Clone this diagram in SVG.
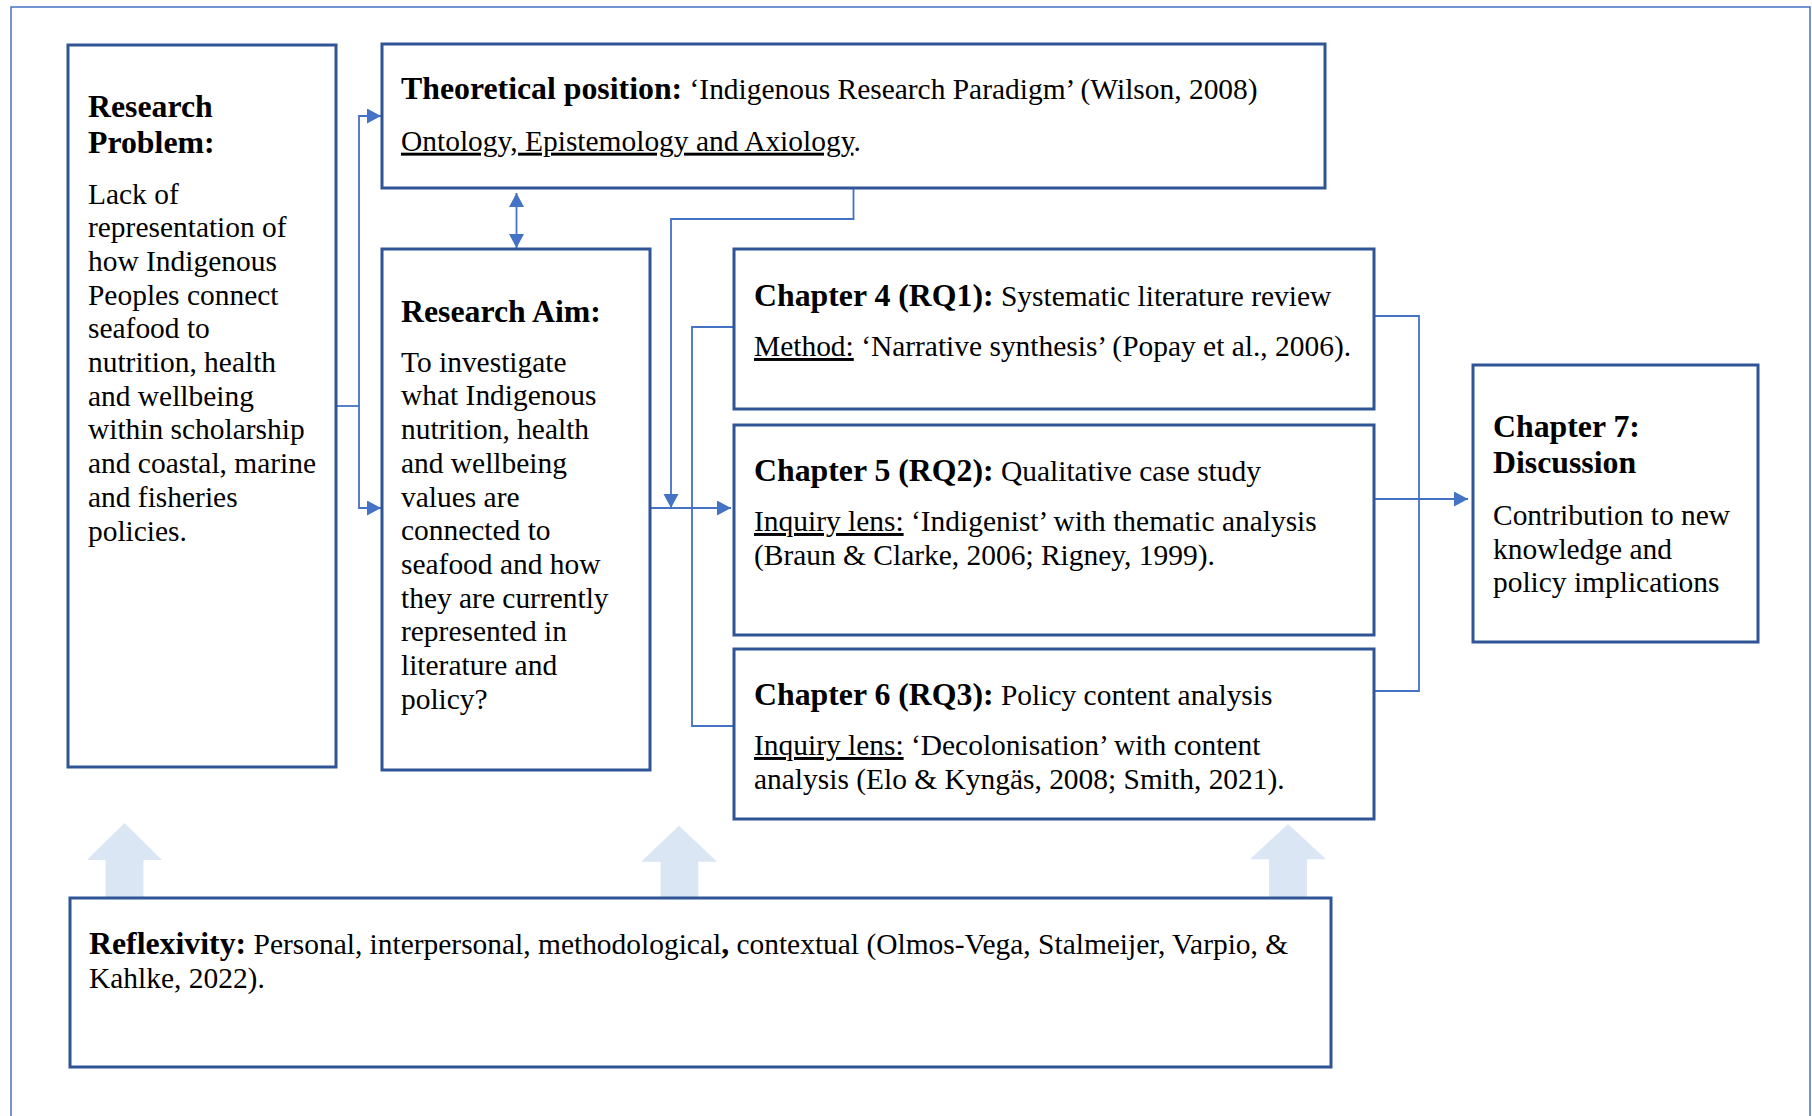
<svg xmlns="http://www.w3.org/2000/svg" width="1812" height="1116" viewBox="0 0 1812 1116">
<style>
.box{fill:#fff;stroke:#2F5597;stroke-width:3}
.frame{fill:none;stroke:#4472C4;stroke-width:1.5}
.con{fill:none;stroke:#4472C4;stroke-width:1.8}
.blk{fill:#DAE6F4;stroke:none}
text{font-family:"Liberation Serif","Times New Roman",serif;font-size:29.45px;fill:#000}
.b{font-weight:bold;font-size:31.8px}
.u{text-decoration:underline}
</style>
<defs>
<marker id="ah" markerUnits="userSpaceOnUse" markerWidth="16" markerHeight="16" refX="14" refY="7.5" orient="auto-start-reverse">
<path d="M0,0 L14,7.5 L0,15 z" fill="#4472C4"/>
</marker>
</defs>
<rect class="frame" x="11" y="7" width="1799" height="1200"/>
<g id="reflexivity-arrows">
<polygon class="blk" points="124.5,823 162,860 143.4,860 143.4,898 105.6,898 105.6,860 87,860"/>
<polygon class="blk" points="679,825.7 717,861.7 698.3,861.7 698.3,898 660.7,898 660.7,861.7 641,861.7"/>
<polygon class="blk" points="1288,824 1326,859.3 1307,859.3 1307,898 1269,898 1269,859.3 1250,859.3"/>
</g>
<g id="connectors">
<path class="con" d="M336,406 H359"/>
<path class="con" d="M359,406 V116 H381" marker-end="url(#ah)"/>
<path class="con" d="M359,406 V508 H381" marker-end="url(#ah)"/>
<path class="con" d="M516.5,193 V248" marker-start="url(#ah)" marker-end="url(#ah)"/>
<path class="con" d="M853.5,188 V219 H671 V508" marker-end="url(#ah)"/>
<path class="con" d="M650,508 H731" marker-end="url(#ah)"/>
<path class="con" d="M734,327 H692 V726 H734"/>
<path class="con" d="M1374,316 H1419 V691 H1374"/>
<path class="con" d="M1374,499 H1468" marker-end="url(#ah)"/>
</g>
<g id="research-problem">
<rect class="box" x="68" y="45" width="268" height="722"/>
<text class="b" x="88" y="116.7">Research</text>
<text class="b" x="88" y="152.7">Problem:</text>
<text x="88" y="204">Lack of</text>
<text x="88" y="237.2">representation of</text>
<text x="88" y="270.9">how Indigenous</text>
<text x="88" y="304.6">Peoples connect</text>
<text x="88" y="338.3">seafood to</text>
<text x="88" y="372">nutrition, health</text>
<text x="88" y="405.7">and wellbeing</text>
<text x="88" y="439.4">within scholarship</text>
<text x="88" y="473.1">and coastal, marine</text>
<text x="88" y="506.8">and fisheries</text>
<text x="88" y="540.5">policies.</text>
</g>
<g id="theoretical-position">
<rect class="box" x="382" y="44" width="943" height="144"/>
<text x="401" y="99.3"><tspan class="b">Theoretical position:</tspan> ‘Indigenous Research Paradigm’ (Wilson, 2008)</text>
<text x="401" y="150.7"><tspan class="u">Ontology, Epistemology and Axiology</tspan>.</text>
</g>
<g id="research-aim">
<rect class="box" x="382" y="249" width="268" height="521"/>
<text class="b" x="401" y="321.7">Research Aim:</text>
<text x="401" y="371.7">To investigate</text>
<text x="401" y="405.4">what Indigenous</text>
<text x="401" y="439.1">nutrition, health</text>
<text x="401" y="472.8">and wellbeing</text>
<text x="401" y="506.5">values are</text>
<text x="401" y="540.2">connected to</text>
<text x="401" y="573.9">seafood and how</text>
<text x="401" y="607.6">they are currently</text>
<text x="401" y="641.3">represented in</text>
<text x="401" y="675">literature and</text>
<text x="401" y="708.7">policy?</text>
</g>
<g id="chapter-4">
<rect class="box" x="734" y="249" width="640" height="160"/>
<text x="754" y="306"><tspan class="b">Chapter 4 (RQ1):</tspan> Systematic literature review</text>
<text x="754" y="356"><tspan class="u">Method:</tspan> ‘Narrative synthesis’ (Popay et al., 2006).</text>
</g>
<g id="chapter-5">
<rect class="box" x="734" y="425" width="640" height="210"/>
<text x="754" y="481"><tspan class="b">Chapter 5 (RQ2):</tspan> Qualitative case study</text>
<text x="754" y="531"><tspan class="u">Inquiry lens:</tspan> ‘Indigenist’ with thematic analysis</text>
<text x="754" y="565">(Braun &amp; Clarke, 2006; Rigney, 1999).</text>
</g>
<g id="chapter-6">
<rect class="box" x="734" y="649" width="640" height="170"/>
<text x="754" y="705"><tspan class="b">Chapter 6 (RQ3):</tspan> Policy content analysis</text>
<text x="754" y="755"><tspan class="u">Inquiry lens:</tspan> ‘Decolonisation’ with content</text>
<text x="754" y="789">analysis (Elo &amp; Kyngäs, 2008; Smith, 2021).</text>
</g>
<g id="chapter-7">
<rect class="box" x="1473" y="365" width="285" height="277"/>
<text class="b" x="1493" y="436.7">Chapter 7:</text>
<text class="b" x="1493" y="473.3">Discussion</text>
<text x="1493" y="525">Contribution to new</text>
<text x="1493" y="558.7">knowledge and</text>
<text x="1493" y="592.4">policy implications</text>
</g>
<g id="reflexivity">
<rect class="box" x="70" y="898" width="1261" height="169"/>
<text x="89" y="954"><tspan class="b">Reflexivity:</tspan> Personal, interpersonal, methodological<tspan class="b">,</tspan> contextual (Olmos-Vega, Stalmeijer, Varpio, &amp;</text>
<text x="89" y="988.3">Kahlke, 2022).</text>
</g>
</svg>
